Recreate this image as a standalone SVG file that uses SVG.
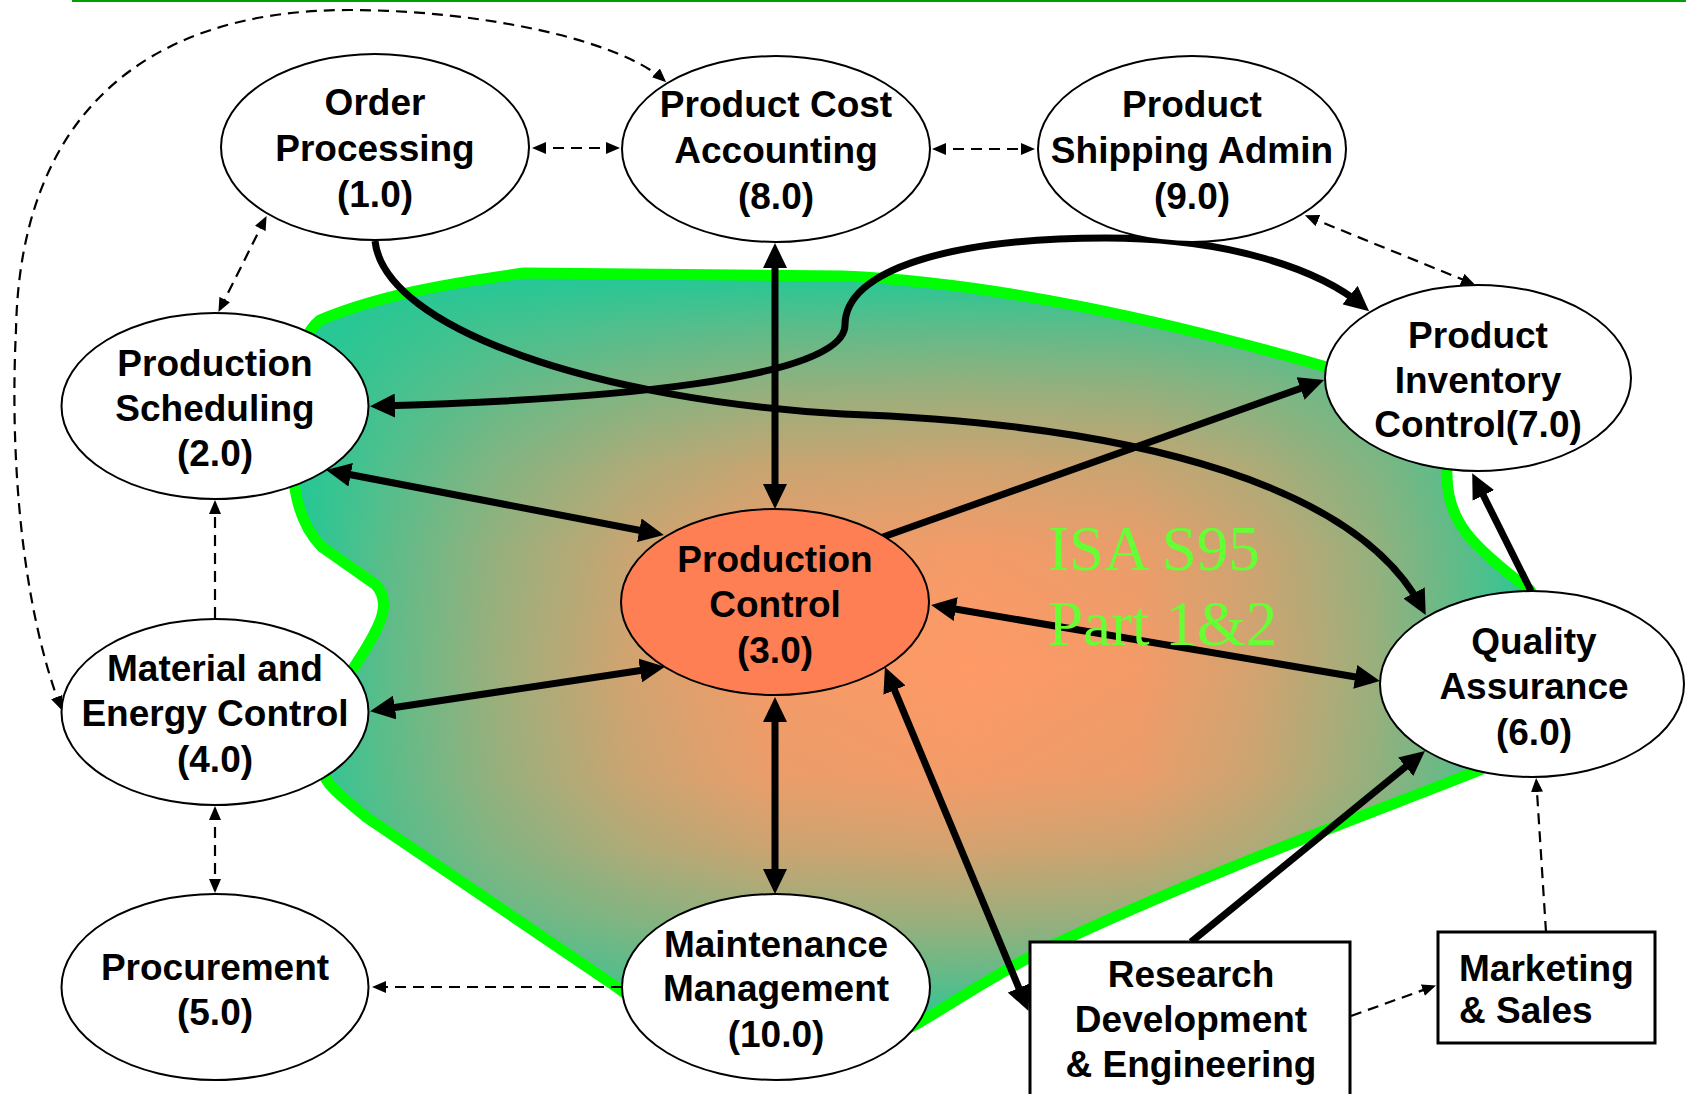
<svg xmlns="http://www.w3.org/2000/svg" width="1686" height="1094" viewBox="0 0 1686 1094">
<defs>
<linearGradient id="hGrad" gradientUnits="userSpaceOnUse" x1="293" y1="0" x2="1545" y2="0">
<stop offset="0" stop-color="#20C997"/>
<stop offset="0.081" stop-color="#63BB88"/>
<stop offset="0.161" stop-color="#9BAF7C"/>
<stop offset="0.269" stop-color="#D2A370"/>
<stop offset="0.377" stop-color="#F49B68"/>
<stop offset="0.538" stop-color="#FF9966"/>
<stop offset="0.677" stop-color="#F49B68"/>
<stop offset="0.769" stop-color="#D2A370"/>
<stop offset="0.862" stop-color="#9BAF7C"/>
<stop offset="0.930" stop-color="#63BB88"/>
<stop offset="1" stop-color="#20C997"/>
</linearGradient>
<linearGradient id="vGrad" gradientUnits="userSpaceOnUse" x1="0" y1="273" x2="0" y2="1030">
<stop offset="0" stop-color="#20C997" stop-opacity="1"/>
<stop offset="0.078" stop-color="#20C997" stop-opacity="0.7"/>
<stop offset="0.157" stop-color="#20C997" stop-opacity="0.45"/>
<stop offset="0.260" stop-color="#20C997" stop-opacity="0.2"/>
<stop offset="0.366" stop-color="#20C997" stop-opacity="0.05"/>
<stop offset="0.522" stop-color="#20C997" stop-opacity="0"/>
<stop offset="0.666" stop-color="#20C997" stop-opacity="0.05"/>
<stop offset="0.761" stop-color="#20C997" stop-opacity="0.2"/>
<stop offset="0.856" stop-color="#20C997" stop-opacity="0.45"/>
<stop offset="0.929" stop-color="#20C997" stop-opacity="0.7"/>
<stop offset="1" stop-color="#20C997" stop-opacity="1"/>
</linearGradient>
<path id="blobShape" d="M524,273 L843,276 C1000,283 1170,322 1330,368 C1420,394 1447,430 1447,475 C1447,520 1470,545 1530,590 C1560,640 1540,720 1480,770 C1380,810 1200,875 1047,948 C990,977 950,1005 915,1025 C820,1075 700,1050 618,988 L366,817 C340,795 326,785 322,770 C310,730 340,690 365,650 C380,625 392,603 376,585 L322,547 C305,530 295,505 293,470 C291,400 290,345 320,320 C380,295 450,283 524,273 Z"/>
<marker id="ah" markerUnits="userSpaceOnUse" markerWidth="25" markerHeight="24" refX="17" refY="12" orient="auto-start-reverse">
<path d="M0,0 L25,12 L0,24 Z" fill="#000"/>
</marker>
<marker id="ahs" markerUnits="userSpaceOnUse" markerWidth="14" markerHeight="12" refX="11" refY="6" orient="auto-start-reverse">
<path d="M0,0 L14,6 L0,12 Z" fill="#000"/>
</marker>
</defs>
<style>
.node{fill:#fff;stroke:#000;stroke-width:2}
.box{fill:#fff;stroke:#000;stroke-width:3}
.pc{fill:#FF7F55;stroke:#000;stroke-width:2}
.lbl{font-family:"Liberation Sans",Arial,sans-serif;font-weight:bold;font-size:37px;fill:#000;text-anchor:middle}
.lbll{font-family:"Liberation Sans",Arial,sans-serif;font-weight:bold;font-size:37px;fill:#000}
.thick{fill:none;stroke:#000;stroke-width:7}
.dash{fill:none;stroke:#000;stroke-width:2.2;stroke-dasharray:11 7}
.isa{font-family:"Liberation Serif","Times New Roman",serif;font-size:63px;fill:#66FF33}
</style>
<rect x="0" y="0" width="1686" height="1094" fill="#fff"/>
<line x1="72" y1="1" x2="1686" y2="1" stroke="#00A000" stroke-width="2"/>
<g id="blob">
<use href="#blobShape" fill="url(#hGrad)" stroke="none"/>
<use href="#blobShape" fill="url(#vGrad)" stroke="none"/>
<use href="#blobShape" fill="none" stroke="#00FF00" stroke-width="11" stroke-linejoin="round"/>
</g>
<g id="connectors">
<path class="thick" d="M375,241 C385,330 600,400 843,414 C1150,425 1360,490 1422,608" marker-end="url(#ah)"/>
<path class="thick" d="M378,406 C600,400 845,380 845,325 C845,270 950,238 1106,238 C1230,238 1320,270 1363,306" marker-start="url(#ah)" marker-end="url(#ah)"/>
<path class="thick" d="M775,251 L775,501" marker-start="url(#ah)" marker-end="url(#ah)"/>
<path class="thick" d="M334,471.5 L656,533.5" marker-start="url(#ah)" marker-end="url(#ah)"/>
<path class="thick" d="M378,710 L657,668" marker-start="url(#ah)" marker-end="url(#ah)"/>
<path class="thick" d="M775,705 L775,886" marker-start="url(#ah)" marker-end="url(#ah)"/>
<path class="thick" d="M939,606.3 L1372,679.7" marker-start="url(#ah)" marker-end="url(#ah)"/>
<path class="thick" d="M883,537 L1316.5,382.7" marker-end="url(#ah)"/>
<path class="thick" d="M888,674.4 L1025.4,1003.6" marker-start="url(#ah)" marker-end="url(#ah)"/>
<path class="thick" d="M1191,942 L1418.8,756" marker-end="url(#ah)"/>
<path class="thick" d="M1531,591 L1475.8,480.3" marker-end="url(#ah)"/>
<path class="dash" d="M60.6,707.3 C20,600 10,450 16,330 C20,120 140,10 349,10 C480,10 620,40 664,80.3" marker-start="url(#ahs)" marker-end="url(#ahs)"/>
<path class="dash" d="M535,148 L617,148" marker-start="url(#ahs)" marker-end="url(#ahs)"/>
<path class="dash" d="M935,149 L1032,149" marker-start="url(#ahs)" marker-end="url(#ahs)"/>
<path class="dash" d="M1307.7,216.5 L1472.3,283.5" marker-start="url(#ahs)" marker-end="url(#ahs)"/>
<path class="dash" d="M265.2,218.6 L219.8,309.4" marker-start="url(#ahs)" marker-end="url(#ahs)"/>
<path class="dash" d="M215,618 L215,503" marker-end="url(#ahs)"/>
<path class="dash" d="M215,809 L215,890" marker-start="url(#ahs)" marker-end="url(#ahs)"/>
<path class="dash" d="M622,987 L375,987" marker-end="url(#ahs)"/>
<path class="dash" d="M1351,1016 L1433.2,986.4" marker-end="url(#ahs)"/>
<path class="dash" d="M1546,932 L1536.3,781" marker-end="url(#ahs)"/>
</g>
<g id="n1">
<ellipse class="node" cx="375" cy="147" rx="154" ry="93"/>
<text class="lbl" x="375" y="115">Order</text>
<text class="lbl" x="375" y="161">Processing</text>
<text class="lbl" x="375" y="207">(1.0)</text>
</g>
<g id="n8">
<ellipse class="node" cx="776" cy="149" rx="154" ry="93"/>
<text class="lbl" x="776" y="117">Product Cost</text>
<text class="lbl" x="776" y="163">Accounting</text>
<text class="lbl" x="776" y="209">(8.0)</text>
</g>
<g id="n9">
<ellipse class="node" cx="1192" cy="149" rx="154" ry="93"/>
<text class="lbl" x="1192" y="117">Product</text>
<text class="lbl" x="1192" y="163">Shipping Admin</text>
<text class="lbl" x="1192" y="209">(9.0)</text>
</g>
<g id="n7">
<ellipse class="node" cx="1478" cy="378" rx="153" ry="93"/>
<text class="lbl" x="1478" y="348">Product</text>
<text class="lbl" x="1478" y="393">Inventory</text>
<text class="lbl" x="1478" y="437">Control(7.0)</text>
</g>
<g id="n2">
<ellipse class="node" cx="215" cy="406" rx="153.5" ry="93"/>
<text class="lbl" x="215" y="376">Production</text>
<text class="lbl" x="215" y="421">Scheduling</text>
<text class="lbl" x="215" y="466">(2.0)</text>
</g>
<g id="n3">
<ellipse class="pc" cx="775" cy="602" rx="154" ry="93"/>
<text class="lbl" x="775" y="572">Production</text>
<text class="lbl" x="775" y="617">Control</text>
<text class="lbl" x="775" y="663">(3.0)</text>
</g>
<g id="n6">
<ellipse class="node" cx="1532" cy="684" rx="152" ry="93"/>
<text class="lbl" x="1534" y="654">Quality</text>
<text class="lbl" x="1534" y="699">Assurance</text>
<text class="lbl" x="1534" y="745">(6.0)</text>
</g>
<g id="n4">
<ellipse class="node" cx="215" cy="712" rx="153.5" ry="93"/>
<text class="lbl" x="215" y="681">Material and</text>
<text class="lbl" x="215" y="726">Energy Control</text>
<text class="lbl" x="215" y="772">(4.0)</text>
</g>
<g id="n5">
<ellipse class="node" cx="215" cy="987" rx="153.5" ry="93"/>
<text class="lbl" x="215" y="980">Procurement</text>
<text class="lbl" x="215" y="1025">(5.0)</text>
</g>
<g id="n10">
<ellipse class="node" cx="776" cy="987" rx="154" ry="93"/>
<text class="lbl" x="776" y="957">Maintenance</text>
<text class="lbl" x="776" y="1001">Management</text>
<text class="lbl" x="776" y="1047">(10.0)</text>
</g>
<g id="rde">
<rect class="box" x="1030" y="942" width="320" height="160"/>
<text class="lbl" x="1191" y="987">Research</text>
<text class="lbl" x="1191" y="1032">Development</text>
<text class="lbl" x="1191" y="1077">&amp; Engineering</text>
</g>
<g id="mkt">
<rect class="box" x="1438" y="932" width="217" height="111"/>
<text class="lbll" x="1459" y="981">Marketing</text>
<text class="lbll" x="1459" y="1023">&amp; Sales</text>
</g>
<g id="isa">
<text class="isa" x="1048" y="570">ISA S95</text>
<text class="isa" x="1048" y="645">Part 1&amp;2</text>
</g>
</svg>
